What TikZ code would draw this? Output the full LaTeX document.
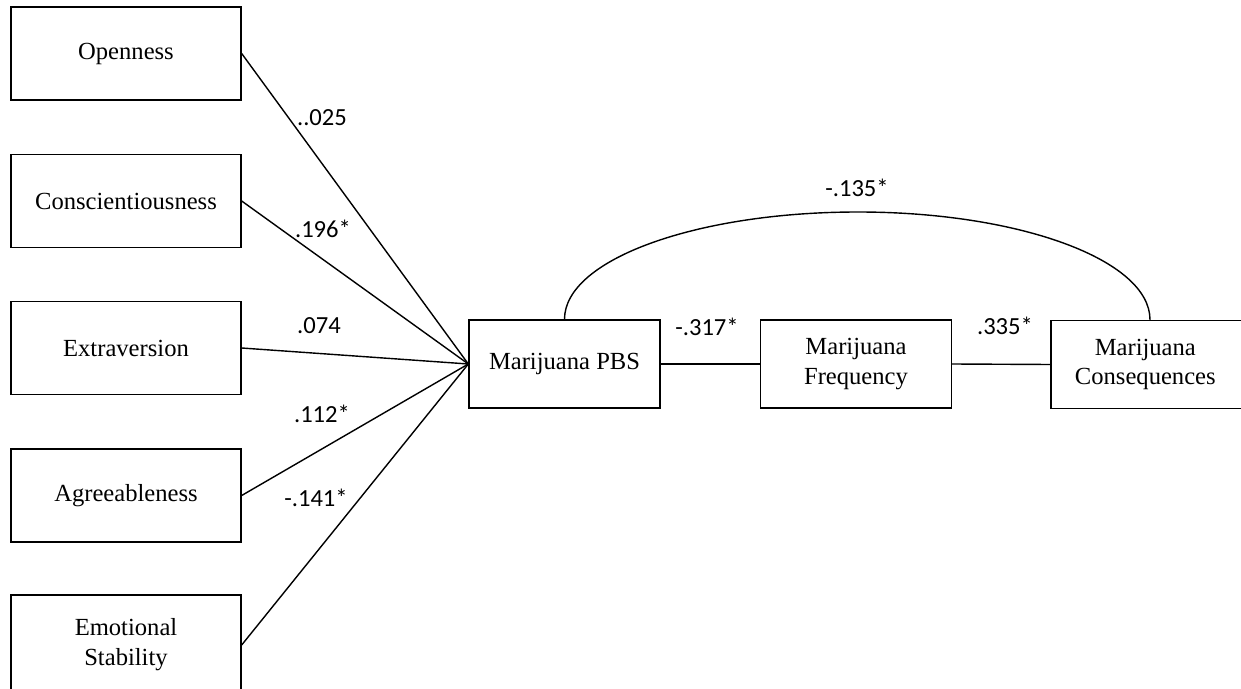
\documentclass[tikz,border=0pt]{standalone}
\usepackage{fontspec}
\setmainfont{Liberation Serif}
\newfontfamily\calib{Carlito}
\begin{document}
\begin{tikzpicture}[x=0.02cm, y=-0.02cm, line width=0.8pt,
    box/.style={draw, rectangle, align=center, inner sep=0pt, font=\fontsize{14}{17}\selectfont},
    trait/.style={box, minimum width=4.6cm, minimum height=1.86cm},
    outcome/.style={box, minimum width=3.82cm, minimum height=1.76cm},
    coef/.style={inner sep=0pt, font=\calib\fontsize{14}{17}\selectfont}]
  \useasboundingbox (0,0) rectangle (1241,689);
  % personality traits
  \node[trait] (open) at (126,53.5) {Openness};
  \node[trait] (consc) at (126,201) {Conscientiousness};
  \node[trait] (extra) at (126,348) {Extraversion};
  \node[trait] (agree) at (126,495.5) {Agreeableness};
  \node[trait, minimum height=2cm] (emo) at (126,645) {Emotional\\Stability};
  % marijuana outcomes
  \node[outcome] (pbs) at (564.5,364) {Marijuana PBS};
  \node[outcome] (freq) at (856,364) {Marijuana\\Frequency};
  \node[outcome, minimum width=4.3cm] (cons) at (1158.5,364.5) {\hspace*{-15pt}Marijuana\\\hspace*{-15pt}Consequences};
  \coordinate (arctop) at (858,212);
  \draw (open.east) -- (pbs.west);
  \draw (consc.east) -- (pbs.west);
  \draw (extra.east) -- (pbs.west);
  \draw (agree.east) -- (pbs.west);
  \draw (emo.east) -- (pbs.west);
  \draw (pbs) -- (freq);
  \draw (freq.east) -- (cons.west);
  \draw (pbs.north) .. controls +(0,-60) and +(-161,0) .. (arctop)
    .. controls +(161,0) and +(0,-60) .. ([xshift=-0.17cm]cons.north);
  % path coefficients
  \node[coef] (c-open) at (322,118) {..025};
  \node[coef] (c-consc) at (323,229) {.196*};
  \node[coef] (c-extra) at (319,326) {.074};
  \node[coef] (c-agree) at (322,414) {.112*};
  \node[coef] (c-emo) at (316,498) {-.141*};
  \node[coef] (c-freq) at (707,327) {-.317*};
  \node[coef] (c-cons) at (1005,326) {.335*};
  \node[coef] (c-arc) at (857,188) {-.135*};
\end{tikzpicture}
\end{document}
